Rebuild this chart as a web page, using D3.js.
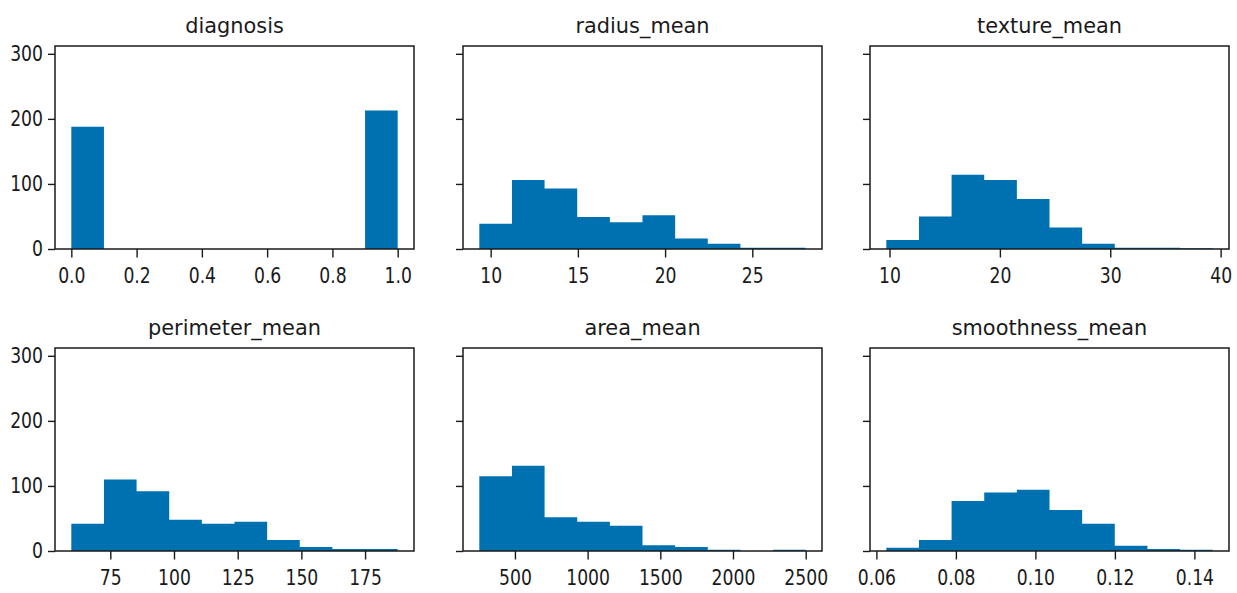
<!DOCTYPE html>
<html>
<head>
<meta charset="utf-8">
<script src="https://cdn.jsdelivr.net/npm/d3@7"></script>
<style>
  body { margin: 0; background: #fff; }
  text { font-family: "DejaVu Sans", sans-serif; fill: #1a1a1a; }
</style>
</head>
<body>
<div class="chart"></div>
<script>
var svgWidth = 1237;
var svgHeight = 593;

// histogram data (10 bins each)
var titles = ["diagnosis", "radius_mean", "texture_mean", "perimeter_mean", "area_mean", "smoothness_mean"];
var binStart = [0, 9.35, 9.71, 59.7, 255, 0.0625];
var binEnd = [1, 28.06, 39.28, 187.8, 2500, 0.1446];

var diagnosisCounts = [188, 0, 0, 0, 0, 0, 0, 0, 0, 213];
var radiusCounts = [39, 106, 93, 49, 41, 52, 16, 8, 2, 2];
var textureCounts = [14, 50, 114, 106, 77, 33, 8, 2, 2, 1];
var perimeterCounts = [42, 110, 92, 48, 42, 45, 17, 6, 3, 3];
var areaCounts = [115, 131, 52, 45, 39, 9, 6, 2, 0, 2];
var smoothnessCounts = [5, 17, 77, 90, 94, 63, 42, 8, 3, 2];

var xTickValues = [
  [0, 0.2, 0.4, 0.6, 0.8, 1.0],
  [10, 15, 20, 25],
  [10, 20, 30, 40],
  [75, 100, 125, 150, 175],
  [500, 1000, 1500, 2000, 2500],
  [0.06, 0.08, 0.10, 0.12, 0.14]
];
var xTickFormats = [".1f", "d", "d", "d", "d", ".2f"];
var yTickValues = [0, 100, 200, 300];
var yMax = 312;

var allCounts = [diagnosisCounts, radiusCounts, textureCounts, perimeterCounts, areaCounts, smoothnessCounts];

// layout
var colLeft = [55, 463, 870];
var rowTop = [46, 348];
var plotW = 359;
var plotH = 203;
var barColor = "#0071b0";
var inkColor = "#1a1a1a";
var tickScaleX = 0.84;   // the picture is squeezed horizontally
var titleScaleX = 0.95;

var svg = d3.select(".chart")
  .append("svg")
  .attr("width", svgWidth)
  .attr("height", svgHeight);

svg.append("rect")
  .attr("width", svgWidth)
  .attr("height", svgHeight)
  .attr("fill", "#fff");

titles.forEach(function(title, i) {
  var col = i % 3;
  var row = Math.floor(i / 3);
  var lo = binStart[i];
  var hi = binEnd[i];
  var pad = (hi - lo) * 0.05;
  var counts = allCounts[i];
  var binW = (hi - lo) / counts.length;

  var g = svg.append("g")
    .attr("transform", `translate(${colLeft[col]},${rowTop[row]})`);

  var x = d3.scaleLinear()
    .domain([lo - pad, hi + pad])
    .range([0, plotW]);

  var y = d3.scaleLinear()
    .domain([0, yMax])
    .range([plotH, 0]);

  // bin edges with their counts; last edge repeats the last count
  var steps = counts.map(function(n, k) { return {x: lo + k * binW, n: n}; });
  steps.push({x: hi, n: counts[counts.length - 1]});

  // bars drawn as one stepped shape so neighbouring bars do not show seams
  var area = d3.area()
    .curve(d3.curveStepAfter)
    .x(d => x(d.x))
    .y0(plotH)
    .y1(d => y(d.n));

  g.append("path")
    .datum(steps)
    .attr("d", area)
    .attr("fill", barColor);

  // x axis
  var xAxis = d3.axisBottom(x)
    .tickValues(xTickValues[i])
    .tickFormat(d3.format(xTickFormats[i]))
    .tickSize(8.5)
    .tickSizeOuter(0)
    .tickPadding(10.5);

  var xg = g.append("g")
    .attr("transform", `translate(0,${plotH})`)
    .call(xAxis);

  // y axis (shared, labels only on the first column)
  var yAxis = d3.axisLeft(y)
    .tickValues(yTickValues)
    .tickSize(7)
    .tickSizeOuter(0)
    .tickPadding(5);
  if (col > 0) yAxis.tickFormat("");

  var yg = g.append("g").call(yAxis);

  [xg, yg].forEach(function(ax) {
    ax.select(".domain").remove();
    ax.selectAll(".tick line")
      .attr("stroke", inkColor)
      .attr("stroke-width", 1.4);
    ax.selectAll(".tick text")
      .attr("font-size", 20.5)
      .attr("fill", inkColor)
      .attr("x", function() { return (+d3.select(this).attr("x") || 0) / tickScaleX; })
      .attr("transform", `scale(${tickScaleX},1)`);
  });

  // frame
  g.append("rect")
    .attr("width", plotW)
    .attr("height", plotH)
    .attr("fill", "none")
    .attr("stroke", inkColor)
    .attr("stroke-width", 1.5);

  // title
  g.append("g")
    .attr("transform", `translate(${plotW / 2},-13.5) scale(${titleScaleX},1)`)
    .append("text")
    .attr("text-anchor", "middle")
    .attr("font-size", 22)
    .text(title);
});
</script>
</body>
</html>
